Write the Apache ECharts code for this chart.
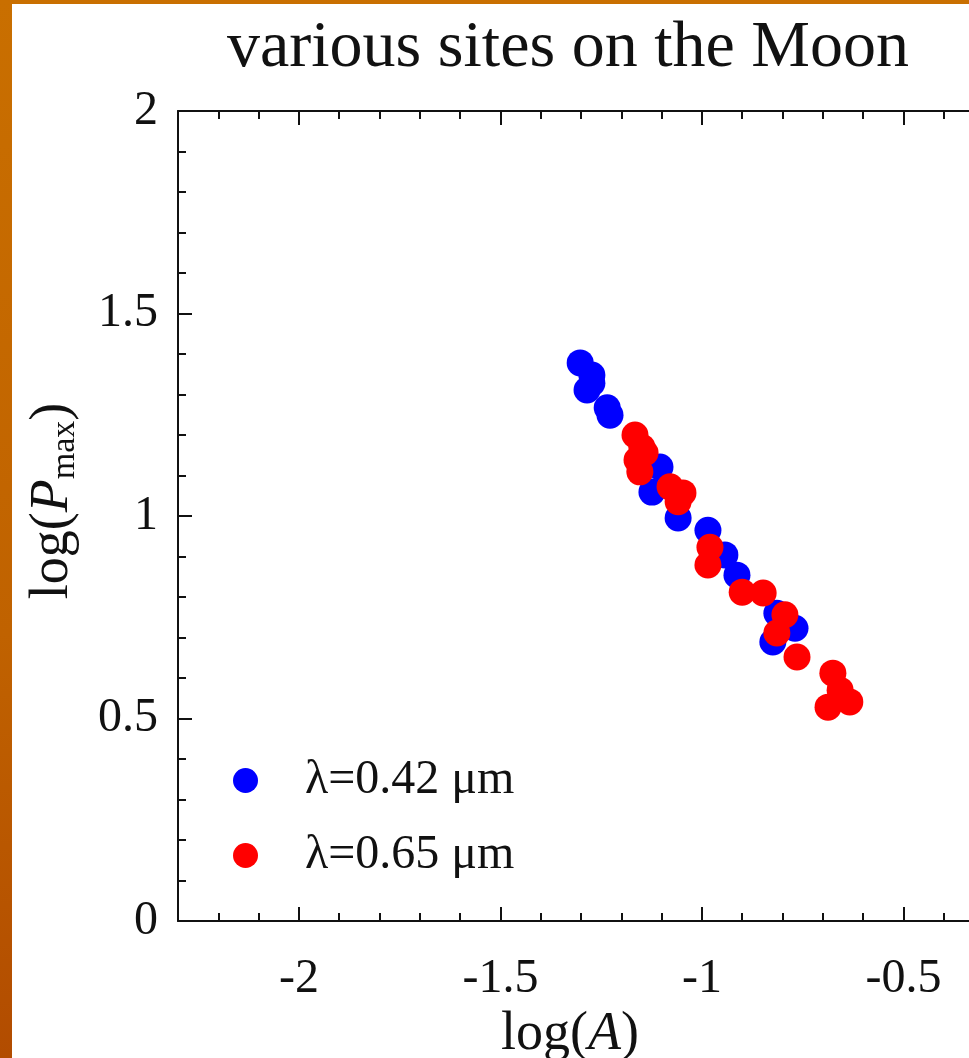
<!DOCTYPE html>
<html>
<head>
<meta charset="utf-8">
<script src="https://cdn.jsdelivr.net/npm/echarts@6/dist/echarts.min.js"></script>
<style>
  html, body { margin: 0; padding: 0; }
  body { width: 969px; height: 1058px; background: linear-gradient(180deg, #c96f00 0%, #c06200 60%, #b24c00 100%); position: relative; overflow: hidden; }
  #paper { position: absolute; left: 12px; top: 4px; right: 0; bottom: 0; background: #ffffff; }
  #main { position: absolute; left: 0; top: 0; width: 969px; height: 1058px; }
</style>
</head>
<body>
<div id="paper"></div>
<div id="main"></div>
<script>
// Initialise the echarts instance based on the prepared dom
const myChart = echarts.init(document.getElementById('main'));

const titleText = 'various sites on the Moon';
const seriesNames = ['λ=0.42 μm', 'λ=0.65 μm'];

// log(A) and log(Pmax)
const blueA = [-1.302, -1.273, -1.273, -1.285, -1.235, -1.228, -1.104, -1.124, -1.059, -0.985, -0.943, -0.913, -0.814, -0.769, -0.824];
const blueP = [1.378, 1.348, 1.328, 1.311, 1.267, 1.249, 1.121, 1.059, 0.995, 0.965, 0.904, 0.854, 0.760, 0.723, 0.689];
const redA = [-1.166, -1.149, -1.141, -1.161, -1.154, -1.079, -1.047, -1.059, -0.980, -0.985, -0.900, -0.848, -0.794, -0.814, -0.764, -0.675, -0.657, -0.687, -0.633];
const redP = [1.200, 1.170, 1.156, 1.138, 1.109, 1.072, 1.057, 1.035, 0.923, 0.879, 0.812, 0.810, 0.756, 0.711, 0.652, 0.612, 0.570, 0.528, 0.541];

// axes
const xRange = [-2.3, -0.3];
const yRange = [0, 2];
const xMajorTicks = [-2, -1.5, -1, -0.5];
const xMinorTicks = [-2.2, -2.1, -1.9, -1.8, -1.7, -1.6, -1.4, -1.3, -1.2, -1.1, -0.9, -0.8, -0.7, -0.6, -0.4];
const yMajorTicks = [0, 0.5, 1, 1.5, 2];
const yMinorTicks = [0.1, 0.2, 0.3, 0.4, 0.6, 0.7, 0.8, 0.9, 1.1, 1.2, 1.3, 1.4, 1.6, 1.7, 1.8, 1.9];

const serif = '"Liberation Serif", "DejaVu Serif", serif';
const ink = '#111111';

function pairs(xs, ys) {
    return xs.map((x, i) => [x, ys[i]]);
}

function axis(dim, position, ticks, len, major) {
    const range = dim === 'x' ? xRange : yRange;
    return {
        type: 'value',
        position: position,
        min: range[0],
        max: range[1],
        gridIndex: 0,
        axisLine: { show: major, onZero: false, lineStyle: { color: ink, width: 2 } },
        axisTick: { show: true, inside: true, length: len, customValues: ticks, lineStyle: { color: ink, width: 2 } },
        axisLabel: { show: false },
        splitLine: { show: false }
    };
}

const richName = {
    n: { fontFamily: serif, fontSize: 54, color: ink, lineHeight: 58 },
    i: { fontFamily: serif, fontSize: 54, fontStyle: 'italic', color: ink, lineHeight: 58 },
    s: { fontFamily: serif, fontSize: 34, color: ink, lineHeight: 34, verticalAlign: 'bottom' }
};

const xBottom = axis('x', 'bottom', xMajorTicks, 14, true);
xBottom.axisLabel = { show: true, customValues: xMajorTicks, margin: 34, fontFamily: serif, fontSize: 48, color: ink };
xBottom.name = '{n|log(}{i|A}{n|)}';
xBottom.nameLocation = 'middle';
xBottom.nameGap = 54;
xBottom.nameTextStyle = { rich: richName, padding: [0, 22, 0, 0] };

const yLeft = axis('y', 'left', yMajorTicks, 14, true);
yLeft.axisLabel = { show: true, customValues: yMajorTicks, margin: 20, fontFamily: serif, fontSize: 48, color: ink };
yLeft.name = '{n|log(}{i|P}{s|max}{n|)}';
yLeft.nameLocation = 'middle';
yLeft.nameGap = 96;
yLeft.nameTextStyle = { rich: richName, padding: [0, 0, 0, 30] };

let option = {
    animation: false,
    title: {
        text: titleText,
        left: 222,
        top: 11,
        textStyle: { fontFamily: serif, fontSize: 66, fontWeight: 'normal', color: ink }
    },
    legend: {
        orient: 'vertical',
        left: 228,
        top: 750,
        itemWidth: 25,
        itemHeight: 25,
        itemGap: 24,
        icon: 'circle',
        data: seriesNames,
        textStyle: { fontFamily: serif, fontSize: 48, lineHeight: 51, color: ink, padding: [0, 0, 0, 42] }
    },
    grid: { left: 178, top: 111, width: 806, height: 810, outerBoundsMode: 'none' },
    xAxis: [
        xBottom,
        axis('x', 'bottom', xMinorTicks, 8, false),
        axis('x', 'top', xMajorTicks, 14, true),
        axis('x', 'top', xMinorTicks, 8, false)
    ],
    yAxis: [
        yLeft,
        axis('y', 'left', yMinorTicks, 8, false),
        axis('y', 'right', yMajorTicks, 14, true),
        axis('y', 'right', yMinorTicks, 8, false)
    ],
    series: [
        {
            name: seriesNames[0],
            type: 'scatter',
            symbolSize: 27,
            itemStyle: { color: '#0000ff', opacity: 1 },
            data: pairs(blueA, blueP)
        },
        {
            name: seriesNames[1],
            type: 'scatter',
            symbolSize: 27,
            itemStyle: { color: '#ff0000', opacity: 1 },
            data: pairs(redA, redP)
        }
    ]
};

option && myChart.setOption(option);
</script>
</body>
</html>
